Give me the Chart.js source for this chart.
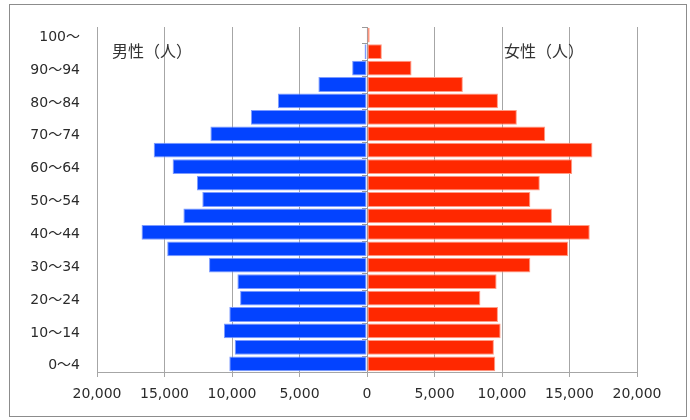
<!DOCTYPE html>
<html lang="ja">
<head>
  <meta charset="UTF-8" />
  <title>人口ピラミッド</title>
  <script src="https://cdn.jsdelivr.net/npm/chart.js"></script>
  <style>
    body { margin: 0; background: #fff; }
    .wrap { position: relative; width: 690px; height: 420px; }
    .frame { position: absolute; left: 9px; top: 4px; width: 678px; height: 413px; border: 1px solid #8c8c8c; box-sizing: border-box; }
    canvas { position: absolute; left: 0; top: 0; }
    .note { position: absolute; top: 38px; font: 16px "Noto Sans CJK JP", sans-serif; color: #333; }
  </style>
</head>
<body>
  <div class="wrap">
    <div class="frame"></div>
    <canvas id="chart" width="690" height="420"></canvas>
    <div class="note" style="left: 112px;">男性（人）</div>
    <div class="note" style="left: 504px;">女性（人）</div>
  </div>

  <script>
    // 年齢階級（下から上へ）
    const ageGroups = ['0～4', '5～9', '10～14', '15～19', '20～24', '25～29', '30～34', '35～39',
      '40～44', '45～49', '50～54', '55～59', '60～64', '65～69', '70～74', '75～79',
      '80～84', '85～89', '90～94', '95～99', '100～'];
    const male = [10200, 9800, 10600, 10200, 9400, 9600, 11700, 14800, 16700, 13600,
      12200, 12600, 14400, 15800, 11600, 8600, 6600, 3600, 1100, 180, 20];
    const female = [9500, 9400, 9900, 9700, 8400, 9600, 12100, 14900, 16500, 13700,
      12100, 12800, 15200, 16700, 13200, 11100, 9700, 7100, 3300, 1100, 200];
    const xTicks = [-20000, -15000, -10000, -5000, 0, 5000, 10000, 15000, 20000];

    const fontFamily = '"DejaVu Sans", "Noto Sans CJK JP", sans-serif';

    // 0の位置の縦軸と目盛り
    const zeroAxis = {
      id: 'zeroAxis',
      beforeDatasetsDraw(chart) {
        const { ctx, scales: { x, y } } = chart;
        const x0 = x.getPixelForValue(0);
        const step = (y.bottom - y.top) / ageGroups.length;
        ctx.save();
        ctx.strokeStyle = '#9a9a9a';
        ctx.lineWidth = 1;
        ctx.beginPath();
        ctx.moveTo(x0 + 0.5, y.top);
        ctx.lineTo(x0 + 0.5, y.bottom);
        for (let i = 0; i <= ageGroups.length; i++) {
          const yy = Math.round(y.top + i * step) + 0.5;
          ctx.moveTo(x0 - 5, yy);
          ctx.lineTo(x0 + 0.5, yy);
        }
        ctx.stroke();
        ctx.restore();
      }
    };

    new Chart(document.getElementById('chart'), {
      type: 'bar',
      data: {
        labels: ageGroups,
        datasets: [
          {
            label: '男性',
            data: male.map(v => -v),
            backgroundColor: '#0343ff',
            borderColor: '#7d9bff',
            borderWidth: 1,
            borderSkipped: false,
            categoryPercentage: 1,
            barPercentage: 0.9
          },
          {
            label: '女性',
            data: female,
            backgroundColor: '#ff2800',
            borderColor: '#ff9c85',
            borderWidth: 1,
            borderSkipped: false,
            categoryPercentage: 1,
            barPercentage: 0.9
          }
        ]
      },
      options: {
        indexAxis: 'y',
        responsive: false,
        animation: false,
        layout: { padding: { left: 10, right: 53, top: 27, bottom: 8 } },
        plugins: { legend: { display: false }, tooltip: { enabled: false } },
        scales: {
          x: {
            stacked: true,
            min: -20000,
            max: 20000,
            afterBuildTicks: s => { s.ticks = xTicks.map(v => ({ value: v })); },
            afterFit: s => { s.height = 40; },
            grid: { color: '#a6a6a6', tickLength: 5 },
            border: { color: '#a6a6a6' },
            ticks: {
              padding: 9,
              color: '#2b2b2b',
              font: { family: fontFamily, size: 14 },
              callback: v => Math.abs(v).toLocaleString('en-US')
            }
          },
          y: {
            stacked: true,
            reverse: true,
            afterFit: s => { s.width = 87; },
            grid: { display: false, drawTicks: false },
            border: { display: false },
            ticks: {
              autoSkip: false,
              padding: 17,
              labelOffset: 2,
              color: '#2b2b2b',
              font: { family: fontFamily, size: 14 },
              callback: function (v, i) { return i % 2 === 0 ? this.getLabelForValue(v) : ''; }
            }
          }
        }
      },
      plugins: [zeroAxis]
    });
  </script>
</body>
</html>
